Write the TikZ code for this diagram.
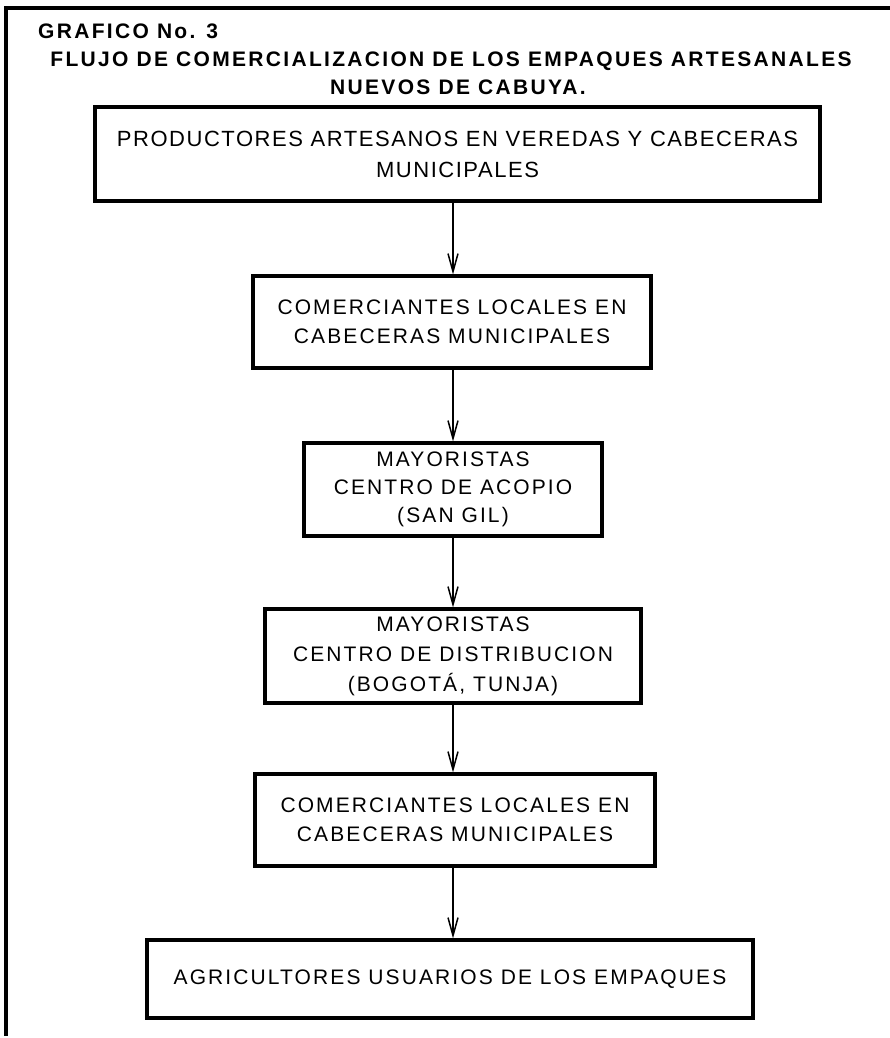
\documentclass[tikz,border=0pt]{standalone}
\usepackage{fontspec}
\setmainfont{Liberation Sans}
\newfontfamily\bxfont[LetterSpace=10]{Liberation Sans}
\newfontfamily\bxfonta[LetterSpace=7]{Liberation Sans}
\newfontfamily\ttlfont[LetterSpace=11]{Liberation Sans}
\usetikzlibrary{arrows.meta}
\begin{document}
\begin{tikzpicture}[x=1pt,y=-1pt,
  stagebox/.style={draw=black,line width=3.2pt,inner sep=0pt,align=center,
    font=\bxfont\fontsize{21}{29.5}\selectfont},
  flowarrow/.style={line width=1.5pt,-{Straight Barb[length=18pt,width=10pt,line width=1.5pt]}},
  frameline/.style={line width=3.2pt},
  titletext/.style={inner sep=0pt,font=\ttlfont\bfseries\fontsize{21}{26}\selectfont}]
\useasboundingbox[fill=white] (0,0) rectangle (890,1038);
% frame
\coordinate (fr-tr) at (890,8);
\coordinate (fr-tl) at (6,8);
\coordinate (fr-bl) at (6,1036);
\draw[frameline] (fr-tr) -- (fr-tl) -- (fr-bl);
% titles
\node[titletext,anchor=west] (t1) at (38,31) {GRAFICO No. 3};
\node[titletext] (t2) at (451,61) {FLUJO DE COMERCIALIZACION DE LOS EMPAQUES ARTESANALES};
\node[titletext] (t3) at (458,87) {NUEVOS DE CABUYA.};
% boxes
\node[stagebox,minimum width=725pt,minimum height=94pt,font=\bxfonta\fontsize{22}{31}\selectfont] (b1) at (457.5,154)
  {PRODUCTORES ARTESANOS EN VEREDAS Y CABECERAS\\MUNICIPALES};
\node[stagebox,minimum width=398pt,minimum height=92pt] (b2) at (452,322)
  {COMERCIANTES LOCALES EN\\CABECERAS MUNICIPALES};
\node[stagebox,minimum width=298pt,minimum height=93pt,font=\bxfont\fontsize{21}{28}\selectfont] (b3) at (453,489.5)
  {MAYORISTAS\\CENTRO DE ACOPIO\\(SAN GIL)};
\node[stagebox,minimum width=376pt,minimum height=94pt,font=\bxfont\fontsize{21}{30}\selectfont] (b4) at (453,656)
  {MAYORISTAS\\CENTRO DE DISTRIBUCION\\(BOGOT\'A, TUNJA)};
\node[stagebox,minimum width=400pt,minimum height=92pt] (b5) at (455,820)
  {COMERCIANTES LOCALES EN\\CABECERAS MUNICIPALES};
\node[stagebox,minimum width=606pt,minimum height=78pt] (b6) at (450,979)
  {AGRICULTORES USUARIOS DE LOS EMPAQUES};
% arrows
\coordinate (ax) at (453,0);
\draw[flowarrow] (b1.south -| ax) -- (b2.north -| ax);
\draw[flowarrow] (b2.south -| ax) -- (b3.north -| ax);
\draw[flowarrow] (b3.south -| ax) -- (b4.north -| ax);
\draw[flowarrow] (b4.south -| ax) -- (b5.north -| ax);
\draw[flowarrow] (b5.south -| ax) -- (b6.north -| ax);
\end{tikzpicture}
\end{document}
